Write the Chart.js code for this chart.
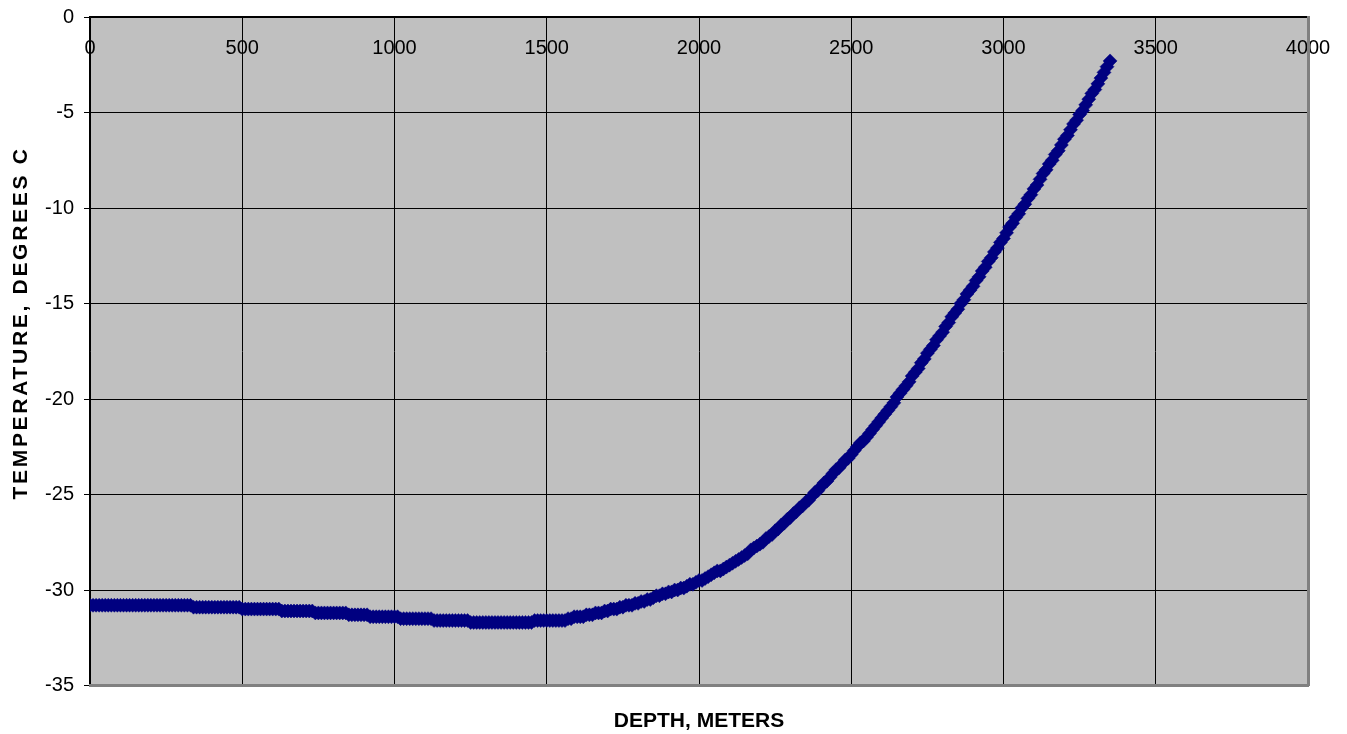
<!DOCTYPE html>
<html>
<head>
<meta charset="utf-8">
<title>Temperature vs depth</title>
<script src="https://cdn.jsdelivr.net/npm/chart.js@4.4.1/dist/chart.umd.min.js"></script>
<style>
  html, body { margin: 0; padding: 0; background: #fff; }
  #wrap { width: 1347px; height: 734px; }
</style>
</head>
<body>
<div id="wrap"><canvas id="tempChart" width="1347" height="734"></canvas></div>
<script>
// depth of each reading (m)
const depthM = [
  0, 10, 20, 30, 40, 50, 60, 70, 80, 90,
  100, 110, 120, 130, 140, 150, 160, 170, 180, 190,
  200, 210, 220, 230, 240, 250, 260, 270, 280, 290,
  300, 310, 320, 330, 340, 350, 360, 370, 380, 390,
  400, 410, 420, 430, 440, 450, 460, 470, 480, 490,
  500, 510, 520, 530, 540, 550, 560, 570, 580, 590,
  600, 610, 620, 630, 640, 650, 660, 670, 680, 690,
  700, 710, 720, 730, 740, 750, 760, 770, 780, 790,
  800, 810, 820, 830, 840, 850, 860, 870, 880, 890,
  900, 910, 920, 930, 940, 950, 960, 970, 980, 990,
  1000, 1010, 1020, 1030, 1040, 1050, 1060, 1070, 1080, 1090,
  1100, 1110, 1120, 1130, 1140, 1150, 1160, 1170, 1180, 1190,
  1200, 1210, 1220, 1230, 1240, 1250, 1260, 1270, 1280, 1290,
  1300, 1310, 1320, 1330, 1340, 1350, 1360, 1370, 1380, 1390,
  1400, 1410, 1420, 1430, 1440, 1450, 1460, 1470, 1480, 1490,
  1500, 1510, 1520, 1530, 1540, 1550, 1560, 1570, 1580, 1590,
  1600, 1610, 1620, 1630, 1640, 1650, 1660, 1670, 1680, 1690,
  1700, 1710, 1720, 1730, 1740, 1750, 1760, 1770, 1780, 1790,
  1800, 1810, 1820, 1830, 1840, 1850, 1860, 1870, 1880, 1890,
  1900, 1910, 1920, 1930, 1940, 1950, 1960, 1970, 1980, 1990,
  2000, 2010, 2020, 2030, 2040, 2050, 2060, 2070, 2080, 2090,
  2100, 2110, 2120, 2130, 2140, 2150, 2160, 2170, 2180, 2190,
  2200, 2210, 2220, 2230, 2240, 2250, 2260, 2270, 2280, 2290,
  2300, 2310, 2320, 2330, 2340, 2350, 2360, 2370, 2380, 2390,
  2400, 2410, 2420, 2430, 2440, 2450, 2460, 2470, 2480, 2490,
  2500, 2510, 2520, 2530, 2540, 2550, 2560, 2570, 2580, 2590,
  2600, 2610, 2620, 2630, 2640, 2650, 2660, 2670, 2680, 2690,
  2700, 2710, 2720, 2730, 2740, 2750, 2760, 2770, 2780, 2790,
  2800, 2810, 2820, 2830, 2840, 2850, 2860, 2870, 2880, 2890,
  2900, 2910, 2920, 2930, 2940, 2950, 2960, 2970, 2980, 2990,
  3000, 3010, 3020, 3030, 3040, 3050, 3060, 3070, 3080, 3090,
  3100, 3110, 3120, 3130, 3140, 3150, 3160, 3170, 3180, 3190,
  3200, 3210, 3220, 3230, 3240, 3250, 3260, 3270, 3280, 3290,
  3300, 3310, 3320, 3330, 3340, 3350
];

// temperature at each depth (deg C)
const tempC = [
  -30.8, -30.8, -30.8, -30.8, -30.8, -30.8, -30.8, -30.8, -30.8, -30.8,
  -30.8, -30.8, -30.8, -30.8, -30.8, -30.8, -30.8, -30.8, -30.8, -30.8,
  -30.8, -30.8, -30.8, -30.8, -30.8, -30.8, -30.8, -30.8, -30.8, -30.8,
  -30.8, -30.8, -30.8, -30.8, -30.9, -30.9, -30.9, -30.9, -30.9, -30.9,
  -30.9, -30.9, -30.9, -30.9, -30.9, -30.9, -30.9, -30.9, -30.9, -30.9,
  -31.0, -31.0, -31.0, -31.0, -31.0, -31.0, -31.0, -31.0, -31.0, -31.0,
  -31.0, -31.0, -31.0, -31.1, -31.1, -31.1, -31.1, -31.1, -31.1, -31.1,
  -31.1, -31.1, -31.1, -31.1, -31.2, -31.2, -31.2, -31.2, -31.2, -31.2,
  -31.2, -31.2, -31.2, -31.2, -31.2, -31.3, -31.3, -31.3, -31.3, -31.3,
  -31.3, -31.3, -31.4, -31.4, -31.4, -31.4, -31.4, -31.4, -31.4, -31.4,
  -31.4, -31.4, -31.5, -31.5, -31.5, -31.5, -31.5, -31.5, -31.5, -31.5,
  -31.5, -31.5, -31.5, -31.6, -31.6, -31.6, -31.6, -31.6, -31.6, -31.6,
  -31.6, -31.6, -31.6, -31.6, -31.6, -31.7, -31.7, -31.7, -31.7, -31.7,
  -31.7, -31.7, -31.7, -31.7, -31.7, -31.7, -31.7, -31.7, -31.7, -31.7,
  -31.7, -31.7, -31.7, -31.7, -31.7, -31.7, -31.6, -31.6, -31.6, -31.6,
  -31.6, -31.6, -31.6, -31.6, -31.6, -31.6, -31.6, -31.5, -31.5, -31.4,
  -31.4, -31.4, -31.4, -31.3, -31.3, -31.3, -31.2, -31.2, -31.2, -31.1,
  -31.1, -31.0, -31.0, -31.0, -30.9, -30.9, -30.8, -30.8, -30.8, -30.7,
  -30.7, -30.6, -30.6, -30.5, -30.5, -30.4, -30.3, -30.3, -30.2, -30.2,
  -30.1, -30.1, -30.0, -30.0, -29.9, -29.9, -29.8, -29.7, -29.7, -29.6,
  -29.5, -29.5, -29.4, -29.3, -29.2, -29.1, -29.0, -29.0, -28.9, -28.8,
  -28.7, -28.6, -28.5, -28.4, -28.3, -28.2, -28.1, -27.9, -27.8, -27.7,
  -27.6, -27.5, -27.3, -27.2, -27.1, -26.9, -26.8, -26.6, -26.5, -26.3,
  -26.2, -26.0, -25.9, -25.7, -25.6, -25.4, -25.3, -25.1, -24.9, -24.8,
  -24.6, -24.4, -24.3, -24.1, -23.9, -23.7, -23.6, -23.4, -23.2, -23.1,
  -22.9, -22.7, -22.5, -22.3, -22.2, -22.0, -21.8, -21.6, -21.4, -21.2,
  -21.0, -20.8, -20.6, -20.4, -20.2, -19.9, -19.7, -19.5, -19.3, -19.1,
  -18.8, -18.6, -18.4, -18.1, -17.9, -17.6, -17.4, -17.2, -16.9, -16.7,
  -16.5, -16.2, -16.0, -15.7, -15.5, -15.3, -15.0, -14.8, -14.5, -14.3,
  -14.1, -13.8, -13.6, -13.3, -13.1, -12.8, -12.6, -12.3, -12.1, -11.8,
  -11.6, -11.3, -11.0, -10.8, -10.5, -10.3, -10.0, -9.8, -9.5, -9.3,
  -9.0, -8.8, -8.5, -8.2, -8.0, -7.7, -7.5, -7.2, -7.0, -6.7,
  -6.4, -6.2, -5.9, -5.6, -5.4, -5.1, -4.9, -4.6, -4.3, -4.0,
  -3.8, -3.5, -3.2, -2.9, -2.6, -2.3
];

const xTitle = "DEPTH, METERS";
const yTitle = "TEMPERATURE, DEGREES C";
const xRange = [0, 4000];
const xStep = 500;
const yRange = [-35, 0];
const yStep = 5;

const FONT = "'Liberation Sans', Arial, Helvetica, sans-serif";
Chart.defaults.font.family = FONT;
Chart.defaults.color = "#000";

const points = depthM.map((d, i) => ({ x: d, y: tempC[i] }));

// grey plot area + white page
const plotBg = {
  id: "plotBg",
  beforeDraw(chart) {
    const { ctx, chartArea: a } = chart;
    ctx.save();
    ctx.fillStyle = "#fff";
    ctx.fillRect(0, 0, chart.width, chart.height);
    ctx.fillStyle = "#c0c0c0";
    ctx.fillRect(a.left, a.top, a.right - a.left, a.bottom - a.top);
    ctx.restore();
  }
};

// depth labels sit just under the top axis line, inside the plot,
// and the rotated y title is a bit spaced out like the original
const extraText = {
  id: "extraText",
  beforeDatasetsDraw(chart) {
    const ctx = chart.ctx;
    const xs = chart.scales.x;
    ctx.save();
    ctx.fillStyle = "#000";
    ctx.font = "20px " + FONT;
    ctx.textAlign = "center";
    ctx.textBaseline = "middle";
    xs.ticks.forEach(t => {
      ctx.fillText(String(t.value), xs.getPixelForValue(t.value), 48);
    });
    ctx.restore();

    ctx.save();
    ctx.fillStyle = "#000";
    ctx.font = "bold 21px " + FONT;
    ctx.textAlign = "center";
    ctx.textBaseline = "middle";
    if ("letterSpacing" in ctx) ctx.letterSpacing = "2.7px";
    ctx.translate(21, 323);
    ctx.rotate(-Math.PI / 2);
    ctx.fillText(yTitle, 0, 0);
    ctx.restore();
  }
};

const ctx = document.getElementById("tempChart").getContext("2d");
const chart = new Chart(ctx, {
  type: "scatter",
  data: {
    datasets: [{
      label: yTitle,
      data: points,
      pointStyle: "rectRot",
      pointRadius: 7,
      pointBorderWidth: 0.5,
      backgroundColor: "#000080",
      borderColor: "#000080",
      showLine: false
    }]
  },
  options: {
    responsive: false,
    devicePixelRatio: 1,
    animation: false,
    events: [],
    layout: { padding: 0 },
    plugins: {
      legend: { display: false },
      tooltip: { enabled: false }
    },
    scales: {
      x: {
        type: "linear",
        position: "top",
        min: xRange[0], max: xRange[1],
        ticks: { stepSize: xStep, display: false },
        grid: { color: "#000", lineWidth: 1, drawTicks: false },
        border: { color: "#000", width: 1.5 },
        afterFit: s => { s.height = 17; }
      },
      x2: {
        type: "linear",
        position: "bottom",
        min: xRange[0], max: xRange[1],
        ticks: { display: false },
        grid: { display: false },
        border: { color: "#808080", width: 3, z: 1 },
        title: {
          display: true,
          text: xTitle,
          font: { size: 21, weight: "bold" },
          padding: { top: 0, bottom: 0 }
        },
        afterFit: s => { s.height = 48.5; }
      },
      y: {
        type: "linear",
        position: "left",
        min: yRange[0], max: yRange[1],
        ticks: {
          stepSize: yStep,
          font: { size: 20 },
          padding: 10,
          callback: v => String(v)
        },
        grid: { color: "#000", lineWidth: 1, tickLength: 6, tickColor: "#000" },
        border: { color: "#000", width: 1.5 },
        afterFit: s => {
          s.width = 90;
          // labels may hang over the plot edges, the boxes around have room
          s.paddingTop = 0;
          s.paddingBottom = 0;
        }
      },
      y2: {
        type: "linear",
        position: "right",
        min: yRange[0], max: yRange[1],
        ticks: { display: false },
        grid: { display: false },
        border: { color: "#808080", width: 3, z: 1 },
        afterFit: s => { s.width = 39; }
      }
    }
  },
  plugins: [plotBg, extraText]
});
</script>
</body>
</html>
